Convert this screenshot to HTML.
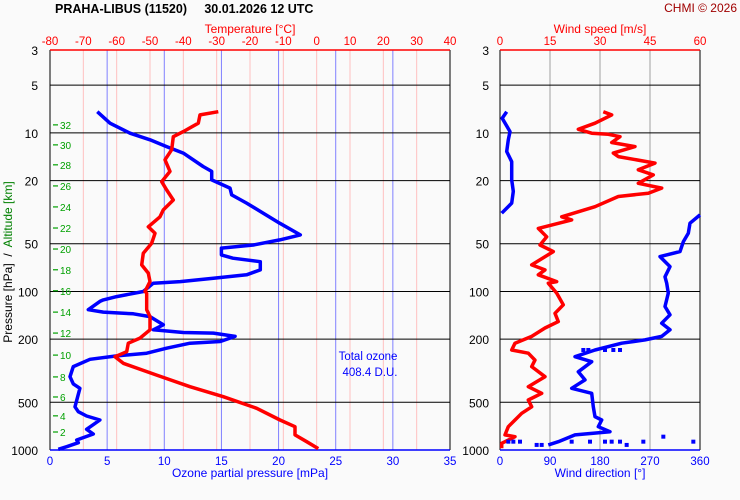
<!DOCTYPE html>
<html><head><meta charset="utf-8"><style>
html,body{margin:0;padding:0;background:#fafafa;}
svg{display:block;font-family:"Liberation Sans",sans-serif;}
</style></head><body>
<svg id="c" width="740" height="500" viewBox="0 0 740 500"></svg>
<script>
// ---- data (pressure in hPa) ----
const ozoneP=[7.35,8.69,10.04,11.05,12.2,13.4,16.3,17.5,19.8,22.3,24.6,27.7,32.1,37.1,44.0,47.3,50.9,53.3,58.8,61.7,64.9,73.1,78.5,82.6,86.7,88.7,100,107.7,113,115.5,130.4,135,138.4,144,162.3,174.6,181.5,183,192,207,212,228,245,255,268,298,345,383,408,534,573,610,647,740,793,865,900,953,990];
const ozoneV=[4.14,5.25,7.0,8.75,10.2,11.66,13.4,14.15,14.15,15.75,15.9,17.2,18.66,20.1,21.9,20.1,17.8,15.0,15.0,16.0,18.4,18.4,17.2,14.3,11.4,9.04,8.16,5.84,4.66,4.37,3.35,4.66,7.29,8.75,9.91,9.04,11.66,14.3,16.2,14.9,12.25,10.2,8.46,5.84,3.5,2.04,1.75,2.04,2.62,2.19,2.48,3.2,4.37,3.2,3.79,2.34,2.48,1.46,0.73];
const tempP=[7.35,7.7,8.69,9.81,10.57,12.77,14.77,17.5,20.3,22.9,26.5,30.6,33.8,39.1,43.0,49.6,57.4,68.0,76.6,86.7,100,102.4,130.4,144,174.6,197,212,240,258,284,337,399,461,546,647,713,803,886,980];
const tempV=[-29.5,-35,-35.5,-40,-43,-43.5,-45.5,-44,-46.5,-45,-43,-46,-47,-50.5,-48.5,-49.5,-52,-52.5,-50.5,-50,-51.5,-51,-51,-50,-50,-53,-56.5,-57,-60.5,-58,-48,-38,-28,-18,-11,-6.5,-6.5,-3,0.5];
const speedP=[7.35,7.7,8.69,9.49,10.04,10.2,10.57,11.5,12.2,13.4,14.1,15.5,17.1,18.4,20.8,22.3,24.0,25.2,29.2,33.8,35.4,40.0,45.2,50.9,56.1,68.0,73.1,78.5,86.7,88.7,102.4,121.4,137.4,155,170,192,212,234,245,271,298,345,399,439,484,534,587,647,713,803,824,907,975];
const speedV=[31,33.5,28.5,23.5,27.5,32.5,36,33.5,40.5,34,35.5,46.5,41.5,46,41.5,48.5,44.5,35.5,28.5,18.5,21.5,11.5,14,12,16,9.5,13.5,11.5,17,14.5,17,19,16.5,17.5,13.5,9.5,4.5,3.5,8.5,10.5,9.5,13.5,8.5,12.5,8.5,9.5,6.5,4.5,2.5,1.5,4.5,0.5,0.5];
const dirUpP=[7.35,8.08,9.81,11.05,13.1,15.2,19.8,23.4,27.7,32.1];
const dirUpV=[12,4,18,15,12,21,21,24,21,3];
const dirP=[32.9,37.1,43.0,48.6,56.1,60.3,69.7,80.8,88.7,102.4,124.5,140.4,158.5,174.6,192,202,212,234,258,277.5,321,361.5,408,439,534,617,647,713,767,803,886,929];
const dirV=[360,342,339,330,324,288,306,297,300,303,297,306,291,306,291,261,219,171,135,165,141,153,129,165,168,171,183,177,198,135,105,87];
const dotP=[234,234,234,234,234,886,886,886,929,929,886,886,886,886,886,929,886,824,886];
const dotV=[150,159,189,204,216,15,24,36,66,75,129,162,189,201,216,228,258,294,348];
const pressTicks=[3,5,10,20,50,100,200,500,1000];
const altKm=[32,30,28,26,24,22,20,18,16,14,12,10,8,6,4,2];
const altP=[8.9,11.9,15.9,21.6,29.3,39.8,54,73,99,135,183,252,346,463,609,770];
const ozoneTicks=[0,5,10,15,20,25,30,35];
const tempTicks=[-80,-70,-60,-50,-40,-30,-20,-10,0,10,20,30,40];
const speedTicks=[0,15,30,45,60];
const dirTicks=[0,90,180,270,360];

const NS="http://www.w3.org/2000/svg",svg=document.getElementById('c');
const T=50,B=450,L1=50,R1=450,L2=500,R2=700;
const y=p=>T+(B-T)*Math.log10(p/3)/Math.log10(1000/3);
const xO=v=>L1+(R1-L1)*v/35, xT=v=>L1+(R1-L1)*(v+80)/120;
const xS=v=>L2+(R2-L2)*v/60, xD=v=>L2+(R2-L2)*v/360;
function el(t,a,txt){const e=document.createElementNS(NS,t);for(const k in a)e.setAttribute(k,a[k]);if(txt!==undefined)e.textContent=txt;svg.appendChild(e);return e;}
function line(x1,y1,x2,y2,c,w){return el('line',{x1,y1,x2,y2,stroke:c,'stroke-width':w||1});}
function text(x,yy,s,c,anchor,size,extra){const a={x,y:yy,fill:c,'font-size':size||12,'text-anchor':anchor||'middle'};Object.assign(a,extra||{});return el('text',a,s);}

// header
let t=text(55,13,'PRAHA-LIBUS (11520)\u00a0\u00a0\u00a0\u00a0 30.01.2026 12 UTC','#000','start',12.5,{'font-weight':'bold'});


t=text(737,12,'CHMI © 2026','#a00000','end',12);



// grids
tempTicks.forEach(v=>{if(v>-80&&v<40){const g=line(xT(v),T,xT(v),B,'#ffc0c0');}});
ozoneTicks.forEach(v=>{if(v>0&&v<35){const g=line(xO(v),T,xO(v),B,'#8080ff');}});
speedTicks.forEach(v=>{if(v>0&&v<60){const g=line(xS(v),T,xS(v),B,'#a0a0a0');}});
pressTicks.forEach(p=>{if(p>3&&p<1000){let g=line(L1,y(p),R1,y(p),'#000');g=line(L2,y(p),R2,y(p),'#000');}
 let a=text(38,y(p)+5,String(p),'#000','end',12);
 a=text(489,y(p)+5,String(p),'#000','end',12);});
// frames
[[L1,R1],[L2,R2]].forEach(([a,b])=>{let f=line(a,T,a,B,'#000');
 f=line(b,T,b,B,'#000');
 f=line(a,T,b,T,'#ff0000',1.5);
 f=line(a,B,b,B,'#0000ff',1.5);});
// tick labels
tempTicks.forEach(v=>{const a=text(xT(v),45,String(v),'#ff0000','middle',11.5);});
ozoneTicks.forEach(v=>{const a=text(xO(v),465,String(v),'#0000ff','middle',11.5);});
speedTicks.forEach(v=>{const a=text(xS(v),45,String(v),'#ff0000','middle',11.5);});
dirTicks.forEach(v=>{const a=text(xD(v),465,String(v),'#0000ff','middle',11.5);});
t=text(250,33,'Temperature [°C]','#ff0000','middle',12);
t=text(600,33,'Wind speed [m/s]','#ff0000','middle',12);
t=text(250,477,'Ozone partial pressure [mPa]','#0000ff','middle',12);
t=text(600,477,'Wind direction [°]','#0000ff','middle',12);
// y title
t=el('text',{x:0,y:0,'font-size':12,'text-anchor':'middle',transform:'translate(12,262) rotate(-90)'});
t.innerHTML='<tspan fill="#000">Pressure [hPa]\u00a0 /\u00a0 </tspan><tspan fill="#008000">Altitude [km]</tspan>';


// altitude ticks
altKm.forEach((k,i)=>{const yy=y(altP[i]);let m=line(53,yy,58,yy,'#00a000',1.2);
 const a=text(60,yy+4,String(k),'#00a000','start',10);});
// total ozone
t=text(368,360,'Total ozone','#0000ff','middle',11.5);
t=text(370,376,'408.4 D.U.','#0000ff','middle',11.5);

function poly(P,V,fx,c,name){const pts=P.map((p,i)=>fx(V[i]).toFixed(1)+','+y(p).toFixed(1)).join(' ');
 const e=el('polyline',{points:pts,fill:'none',stroke:c,'stroke-width':3.5,'stroke-linejoin':'round'});}
poly(ozoneP,ozoneV,xO,'#0000ff','ozone-profile');
poly(tempP,tempV,xT,'#ff0000','temperature-profile');
poly(dirUpP,dirUpV,xD,'#0000ff','wind-direction-upper');
poly(dirP,dirV,xD,'#0000ff','wind-direction-profile');
poly(speedP,speedV,xS,'#ff0000','wind-speed-profile');
dotP.forEach((p,i)=>{const r=el('rect',{x:xD(dotV[i])-2,y:y(p)-2,width:4,height:4,fill:'#0000ff'});});
</script>
</body></html>
